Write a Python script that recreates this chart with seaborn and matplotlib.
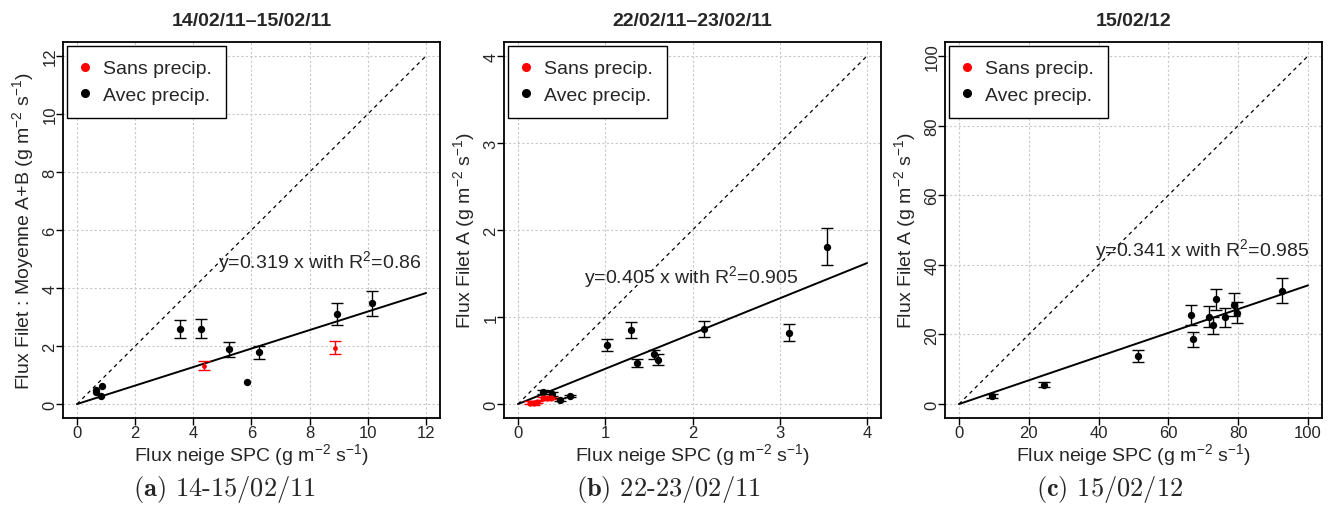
import numpy as np
import pandas as pd
import matplotlib
matplotlib.use('Agg')
import matplotlib.pyplot as plt
from matplotlib.lines import Line2D
import seaborn as sns

# values
# (a) 14-15/02/11
a_sans_x = [4.35, 8.88]
a_sans_y = [1.32, 1.94]
a_sans_err = [0.16, 0.23]
a_avec_x = [0.64, 0.67, 0.85, 0.82, 3.53, 4.26, 5.22, 5.83, 6.26, 8.93, 10.13]
a_avec_y = [0.42, 0.49, 0.63, 0.29, 2.59, 2.60, 1.89, 0.75, 1.78, 3.09, 3.47]
a_avec_err = [0, 0, 0, 0, 0.31, 0.32, 0.26, 0, 0.22, 0.38, 0.42]

# (b) 22-23/02/11
b_sans_x = [0.14, 0.18, 0.22, 0.29, 0.33, 0.38]
b_sans_y = [0.015, 0.01, 0.025, 0.065, 0.07, 0.07]
b_sans_err = [0.015, 0.015, 0.015, 0.015, 0.015, 0.015]
b_avec_x = [0.29, 0.395, 0.48, 0.60, 1.02, 1.29, 1.36, 1.56, 1.61, 2.13, 3.11, 3.54]
b_avec_y = [0.14, 0.115, 0.05, 0.095, 0.676, 0.85, 0.47, 0.57, 0.51, 0.86, 0.82, 1.81]
b_avec_err = [0.02, 0.02, 0.015, 0.015, 0.07, 0.09, 0.045, 0.05, 0.06, 0.095, 0.095, 0.21]

# (c) 15/02/12
c_sans_x = []
c_sans_y = []
c_sans_err = []
c_avec_x = [9.5, 24.4, 51.3, 66.5, 67.1, 71.6, 72.9, 73.5, 76.1, 78.7, 79.7, 92.5]
c_avec_y = [2.3, 5.6, 13.7, 25.6, 18.6, 25.1, 22.6, 30.1, 24.9, 28.6, 26.3, 32.6]
c_avec_err = [0.5, 0.7, 1.7, 3.0, 2.2, 3.0, 2.4, 3.0, 2.8, 3.4, 3.0, 3.7]

slopes = [0.319, 0.405, 0.341]
r2_text = ['0.86', '0.905', '0.985']
text_pos = [(8.35, 4.93), (1.99, 1.47), (69.6, 44.4)]
limits = [12, 4, 100]
steps = [2, 1, 20]
titles = ['14/02/11\u201315/02/11', '22/02/11\u201323/02/11', '15/02/12']
ylabels = ['Flux Filet : Moyenne A+B', 'Flux Filet A', 'Flux Filet A']
captions = [r'$\mathbf{(a)}$ 14-15/02/11', r'$\mathbf{(b)}$ 22-23/02/11',
            r'$\mathbf{(c)}$ 15/02/12']

sns.set_theme(style='white')
plt.rcParams['font.family'] = ['Liberation Sans', 'DejaVu Sans']
plt.rcParams['mathtext.fontset'] = 'custom'
plt.rcParams['mathtext.rm'] = 'Liberation Sans'
plt.rcParams['mathtext.it'] = 'Liberation Sans:italic'
plt.rcParams['mathtext.bf'] = 'Liberation Sans:bold'

W, H = 1336, 506
fig = plt.figure(figsize=(W / 100, H / 100), dpi=100)
lefts = [63, 504, 945]
cap_x = [224, 668, 1110]
units = ' (g m$^{-2}$ s$^{-1}$)'

panels = [
    (a_sans_x, a_sans_y, a_sans_err, a_avec_x, a_avec_y, a_avec_err, 12),
    (b_sans_x, b_sans_y, b_sans_err, b_avec_x, b_avec_y, b_avec_err, 20),
    (c_sans_x, c_sans_y, c_sans_err, c_avec_x, c_avec_y, c_avec_err, 20),
]

for i, (sx, sy, se, ax_, ay, ae, red_s) in enumerate(panels):
    ax = fig.add_axes([lefts[i] / W, (H - 419) / H, 377 / W, 376 / H])
    lim = limits[i]
    pad = lim * 0.04
    ax.set_xlim(-pad, lim + pad)
    ax.set_ylim(-pad, lim + pad)
    ticks = np.arange(0, lim + steps[i] / 2, steps[i])
    ax.set_xticks(ticks)
    ax.set_yticks(ticks)
    ax.set_xticklabels([f'{t:g}' for t in ticks])
    ax.set_yticklabels([f'{t:g}' for t in ticks])
    ax.grid(True, color='#c8c8c8', linestyle=(0, (2, 2)), linewidth=0.8)
    ax.set_axisbelow(True)

    ax.plot([0, lim], [0, lim], color='black', lw=0.9, ls=(0, (3, 3)), zorder=2)
    xs = np.array([0, lim])
    ax.plot(xs, slopes[i] * xs, color='black', lw=1.4, zorder=2)

    df = pd.concat([
        pd.DataFrame({'x': sx, 'y': sy, 'err': se, 'groupe': 'Sans precip.'}),
        pd.DataFrame({'x': ax_, 'y': ay, 'err': ae, 'groupe': 'Avec precip.'}),
    ], ignore_index=True)
    for grp, col in [('Avec precip.', 'black'), ('Sans precip.', 'red')]:
        d = df[(df['groupe'] == grp) & (df['err'] > 0)]
        if len(d):
            ax.errorbar(d['x'], d['y'], yerr=d['err'], fmt='none', ecolor=col,
                        elinewidth=1, capsize=4, capthick=1, zorder=3)
    d = df[df['groupe'] == 'Avec precip.']
    sns.scatterplot(x=d['x'], y=d['y'], color='black', s=28, linewidth=0,
                    ax=ax, zorder=4, legend=False)
    d = df[df['groupe'] == 'Sans precip.']
    if len(d):
        sns.scatterplot(x=d['x'], y=d['y'], color='red', s=red_s, linewidth=0,
                        ax=ax, zorder=5, legend=False)

    ax.text(text_pos[i][0], text_pos[i][1],
            f'y={slopes[i]} x with R$^2$={r2_text[i]}',
            ha='center', va='center', fontsize=14, zorder=6)

    for sp in ax.spines.values():
        sp.set_color('black')
        sp.set_linewidth(1.3)
    ax.tick_params(axis='both', direction='out', length=5, width=1,
                   color='black', labelsize=12, pad=0, bottom=True, left=True)
    ax.tick_params(axis='y', labelrotation=90, pad=-1)
    for lab in ax.get_yticklabels():
        lab.set_va('center')

    ax.set_xlabel('Flux neige SPC' + units, fontsize=14)
    ax.xaxis.set_label_coords(0.5, -0.062)
    ax.set_ylabel(ylabels[i] + units, fontsize=14)
    ax.yaxis.set_label_coords(-0.072, 0.5)
    ax.set_title(titles[i], fontsize=14, fontweight='bold', pad=12)

    handles = [Line2D([], [], marker='o', ls='', color='red', markersize=5.5),
               Line2D([], [], marker='o', ls='', color='black', markersize=5.5)]
    leg = ax.legend(handles, ['Sans precip.', 'Avec precip.'], loc='upper left',
                    fontsize=14, frameon=True, fancybox=False, framealpha=1,
                    edgecolor='black', borderaxespad=0.2, borderpad=0.72,
                    handlelength=0.4, handletextpad=0.75, labelspacing=0.46)
    leg.get_frame().set_linewidth(1.0)
    leg.set_zorder(10)

    fig.text(cap_x[i] / W, 1 - 490 / H, captions[i], ha='center', va='center',
             fontsize=19, family='cmr10', math_fontfamily='cm')

fig.savefig('out.png', dpi=100)
